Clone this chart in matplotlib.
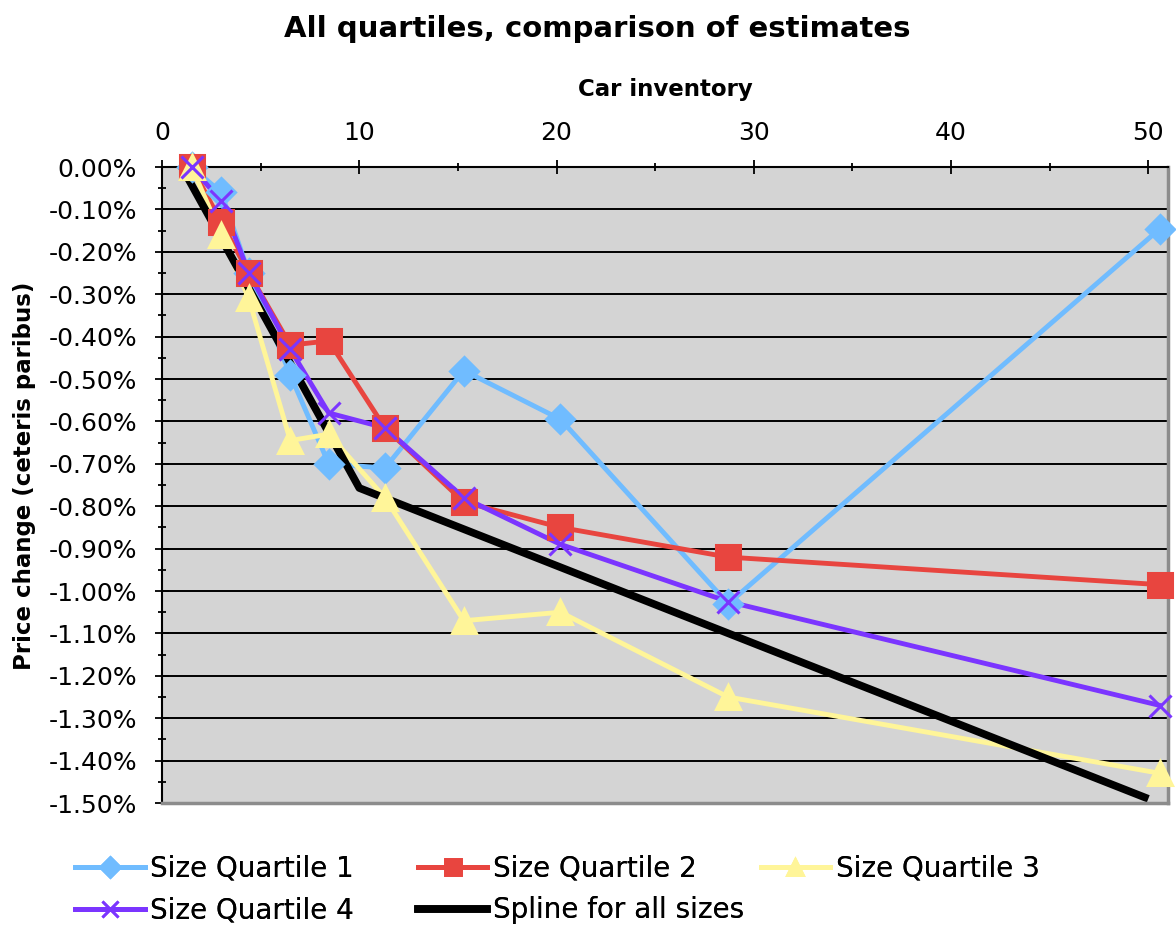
import matplotlib.pyplot as plt
from matplotlib.lines import Line2D
from matplotlib.ticker import MultipleLocator, FuncFormatter

# inventario de carros (eixo x) e variacao de preco em % para cada quartil
inventario = [1.5, 3.0, 4.4, 6.5, 8.45, 11.3, 15.3, 20.2, 28.7, 50.6]
quartil1 = [0.0, -0.06, -0.25, -0.49, -0.70, -0.71, -0.48, -0.595, -1.03, -0.145]
quartil2 = [0.0, -0.13, -0.25, -0.42, -0.41, -0.615, -0.79, -0.85, -0.92, -0.985]
quartil3 = [0.0, -0.16, -0.31, -0.645, -0.63, -0.78, -1.07, -1.05, -1.25, -1.43]
quartil4 = [0.0, -0.08, -0.25, -0.43, -0.58, -0.615, -0.78, -0.89, -1.025, -1.27]

# spline estimado para todos os tamanhos
splineX = [1.0, 10.0, 50.0]
splineY = [0.0, -0.757, -1.49]

fig = plt.figure(figsize=(11.76, 9.26), dpi=100)
ax = fig.add_axes([0.1378, 0.1328, 0.8554, 0.6868])
ax.set_facecolor('#d4d4d4')

series = [
    (quartil1, '#70bcff', 'D', 14, 'Size Quartile 1'),
    (quartil2, '#e8453f', 's', 17, 'Size Quartile 2'),
    (quartil3, '#fff599', '^', 17, 'Size Quartile 3'),
    (quartil4, '#7b35ff', 'x', 16, 'Size Quartile 4'),
]

# linhas primeiro, depois o spline e os marcadores por cima
for valores, cor, marcador, tam, nome in series:
    ax.plot(inventario, valores, color=cor, lw=3.5, zorder=2)
ax.plot(splineX, splineY, color='black', lw=5.5, solid_capstyle='butt', zorder=2.5)
for valores, cor, marcador, tam, nome in series:
    ax.plot(inventario, valores, ls='none', color=cor, marker=marcador,
            ms=tam, mew=2.2, zorder=3, clip_on=False)

ax.set_xlim(0, 51)
ax.set_ylim(-1.5, 0)
ax.xaxis.tick_top()
ax.xaxis.set_label_position('top')
ax.xaxis.set_major_locator(MultipleLocator(10))
ax.xaxis.set_minor_locator(MultipleLocator(5))
ax.yaxis.set_major_locator(MultipleLocator(0.1))
ax.yaxis.set_minor_locator(MultipleLocator(0.05))
ax.yaxis.set_major_formatter(FuncFormatter(lambda v, p: f'{v:.2f}%'.replace('-0.00', '0.00')))

ax.tick_params(axis='both', which='major', labelsize=18, direction='inout',
               length=10, width=1.3, color='black')
ax.tick_params(axis='both', which='minor', direction='inout', length=6,
               width=1.3, color='black')
ax.tick_params(axis='x', which='both', bottom=False, top=True)
ax.tick_params(axis='x', which='major', pad=11)
ax.tick_params(axis='y', which='major', pad=13)

ax.grid(axis='y', which='major', color='black', lw=1.4, zorder=1)
ax.set_axisbelow(True)

for lado in ['left', 'top']:
    ax.spines[lado].set_color('black')
    ax.spines[lado].set_linewidth(1.5)
for lado in ['right', 'bottom']:
    ax.spines[lado].set_color('#8c8c8c')
    ax.spines[lado].set_linewidth(2.5)

ax.set_xlabel('Car inventory', fontsize=16.5, fontweight='bold')
ax.xaxis.set_label_coords(0.5, 1.111)
ax.set_ylabel('Price change (ceteris paribus)', fontsize=16.5, fontweight='bold')
ax.yaxis.set_label_coords(-0.125, 0.515)
fig.suptitle('All quartiles, comparison of estimates', fontsize=21,
             fontweight='bold', x=0.508, y=0.984)

# legenda com marcadores menores, uma linha de entradas por vez
legenda = {}
for valores, cor, marcador, tam, nome in series:
    legenda[nome] = Line2D([], [], color=cor, lw=3.5, marker=marcador,
                           ms=tam * 0.7, mew=2)
legenda['Spline for all sizes'] = Line2D([], [], color='black', lw=5.5)
linhas = [
    (['Size Quartile 1', 'Size Quartile 2', 'Size Quartile 3'], 0.077),
    (['Size Quartile 4', 'Spline for all sizes'], 0.032),
]
for nomes, topo in linhas:
    leg = fig.legend([legenda[n] for n in nomes], nomes, loc='upper left',
                     bbox_to_anchor=(0.064, topo), ncol=3, frameon=False,
                     fontsize=20, handlelength=2.5, handletextpad=0.2,
                     columnspacing=2.3, borderpad=0, borderaxespad=0)
    fig.add_artist(leg)

fig.savefig('out.png', dpi=100)
